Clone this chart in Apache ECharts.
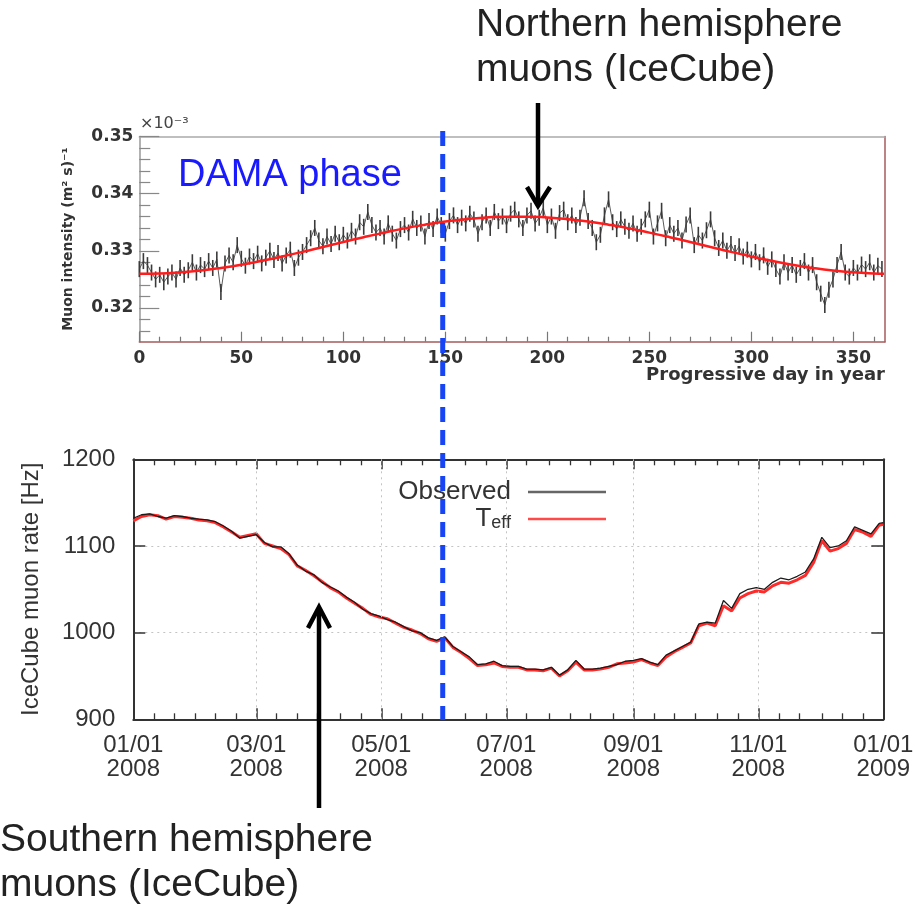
<!DOCTYPE html>
<html>
<head>
<meta charset="utf-8">
<script src="https://cdn.jsdelivr.net/npm/echarts@6/dist/echarts.min.js"></script>
<style>
html, body { margin: 0; padding: 0; background: #fff; }
#chart { width: 915px; height: 910px; }
</style>
</head>
<body>
<div id="chart"></div>
<script>
// ---- top panel: muon intensity (x1e-3 (m^2 s)^-1), every 2nd day ----
const topDays = [
  0,2,4,6,8,10,12,14,16,18, 20,22,24,26,28,30,32,34,36,38,
  40,42,44,46,48,50,52,54,56,58, 60,62,64,66,68,70,72,74,76,78,
  80,82,84,86,88,90,92,94,96,98, 100,102,104,106,108,110,112,114,116,118,
  120,122,124,126,128,130,132,134,136,138, 140,142,144,146,148,150,152,154,156,158,
  160,162,164,166,168,170,172,174,176,178, 180,182,184,186,188,190,192,194,196,198,
  200,202,204,206,208,210,212,214,216,218, 220,222,224,226,228,230,232,234,236,238,
  240,242,244,246,248,250,252,254,256,258, 260,262,264,266,268,270,272,274,276,278,
  280,282,284,286,288,290,292,294,296,298, 300,302,304,306,308,310,312,314,316,318,
  320,322,324,326,328,330,332,334,336,338, 340,342,344,346,348,350,352,354,356,358,
  360,362,364
];
const topRate = [
  0.3268,0.3282,0.3275,0.3262,0.3250,0.3258,0.3245,0.3255,0.3262,0.3250,
  0.3270,0.3258,0.3266,0.3280,0.3262,0.3275,0.3268,0.3282,0.3270,0.3285,
  0.3228,0.3278,0.3292,0.3280,0.3310,0.3286,0.3274,0.3290,0.3282,0.3295,
  0.3278,0.3288,0.3300,0.3284,0.3296,0.3278,0.3292,0.3302,0.3270,0.3288,
  0.3298,0.3310,0.3322,0.3340,0.3318,0.3308,0.3325,0.3312,0.3330,0.3315,
  0.3328,0.3318,0.3335,0.3325,0.3350,0.3342,0.3368,0.3345,0.3332,0.3340,
  0.3325,0.3348,0.3330,0.3318,0.3338,0.3345,0.3332,0.3356,0.3340,0.3348,
  0.3325,0.3352,0.3338,0.3360,0.3345,0.3330,0.3352,0.3362,0.3345,0.3358,
  0.3348,0.3365,0.3355,0.3330,0.3350,0.3362,0.3340,0.3368,0.3352,0.3360,
  0.3345,0.3365,0.3372,0.3355,0.3340,0.3362,0.3370,0.3348,0.3358,0.3375,
  0.3345,0.3360,0.3335,0.3366,0.3372,0.3350,0.3362,0.3345,0.3358,0.3392,
  0.3352,0.3340,0.3315,0.3328,0.3362,0.3390,0.3350,0.3338,0.3355,0.3342,
  0.3335,0.3348,0.3330,0.3342,0.3355,0.3372,0.3325,0.3348,0.3370,0.3322,
  0.3345,0.3330,0.3340,0.3318,0.3346,0.3362,0.3310,0.3328,0.3318,0.3336,
  0.3355,0.3322,0.3305,0.3318,0.3300,0.3312,0.3296,0.3308,0.3290,0.3302,
  0.3285,0.3298,0.3280,0.3292,0.3272,0.3285,0.3268,0.3255,0.3280,0.3262,
  0.3275,0.3258,0.3270,0.3282,0.3262,0.3275,0.3245,0.3225,0.3205,0.3232,
  0.3250,0.3275,0.3298,0.3262,0.3255,0.3270,0.3262,0.3276,0.3268,0.3280,
  0.3262,0.3274,0.3268
];
const topErr = 0.0014;

// fitted curve (red)
const fitDays = [0,10,20,30,40,50,60,70,80,90,100,110,120,130,140,150,160,170,180,
  190,200,210,220,230,240,250,260,270,280,290,300,310,320,330,340,350,360,365];
const fitRate = [0.32600,0.32604,0.32623,0.32655,0.32701,0.32758,0.32826,0.32901,0.32982,
  0.33068,0.33154,0.33238,0.33318,0.33393,0.33457,0.33512,0.33554,0.33583,0.33598,
  0.33598,0.33583,0.33554,0.33512,0.33457,0.33393,0.33318,0.33238,0.33154,0.33068,
  0.32982,0.32901,0.32826,0.32758,0.32701,0.32655,0.32623,0.32604,0.32600];

const topXMajor = [0,50,100,150,200,250,300,350];
const topXMinor = [10,20,30,40,60,70,80,90,110,120,130,140,160,170,180,190,210,220,230,240,
  260,270,280,290,310,320,330,340,360];
const topYMajor = [0.32,0.33,0.34,0.35];
const topYMinor = [0.316,0.318,0.322,0.324,0.326,0.328,0.332,0.334,0.336,0.338,
  0.342,0.344,0.346,0.348];

// ---- bottom panel: IceCube muon rate [Hz], 2008 ----
const botDays = [
  0,4,8,12,16,20,24,28,32,36, 40,44,48,52,56,60,64,68,72,76,
  80,84,88,92,96,100,104,108,112,116, 120,124,128,132,136,140,144,148,152,156,
  160,164,168,172,176,180,184,188,192,196, 200,204,208,212,216,220,224,228,232,236,
  240,244,248,252,256,260,264,268,272,276, 280,284,288,292,296,300,304,308,312,316,
  320,324,328,332,336,340,344,348,352,356, 360,364,366
];
const observed = [
  1132,1136,1137,1134,1132,1135,1134,1132,1131,1130,
  1128,1123,1117,1109,1111,1113,1104,1099,1099,1091,
  1078,1071,1067,1058,1053,1048,1041,1035,1027,1022,
  1019,1015,1012,1007,1002,1000,994,991,995,984,
  978,972,963,964,967,962,961,961,958,958,
  957,960,951,957,968,958,958,959,961,963,
  967,968,970,966,963,974,979,984,989,1010,
  1012,1011,1037,1028,1045,1050,1052,1050,1058,1063,
  1061,1065,1070,1085,1110,1098,1100,1106,1122,1118,
  1114,1126,1127
];
const teff = [
  1129,1134,1136,1135,1131,1134,1133,1132,1130,1129,
  1127,1122,1116,1110,1112,1114,1103,1100,1097,1090,
  1077,1072,1066,1059,1052,1047,1040,1034,1028,1021,
  1018,1016,1011,1006,1003,999,993,990,994,983,
  977,970,962,963,965,961,960,960,957,957,
  956,959,950,956,966,957,957,958,960,964,
  965,966,969,965,962,972,978,983,988,1008,
  1011,1008,1031,1025,1040,1045,1048,1047,1054,1058,
  1057,1061,1066,1081,1106,1094,1097,1103,1119,1116,
  1111,1124,1125
];
const botXTicks = [0,60,121,182,244,305,366];
const botXLabels = ['01/01\n2008','03/01\n2008','05/01\n2008','07/01\n2008',
  '09/01\n2008','11/01\n2008','01/01\n2009'];
const botXMinor = [10,20,30,40,50, 70,80,90,101,111, 131,141,151,162,172,
  192,203,213,223,234, 254,264,274,285,295, 315,325,336,346,356];
const damaDay = 151;

const zip = (xs, ys) => xs.map((x, i) => [x, ys[i]]);

const chart = echarts.init(document.getElementById('chart'));

const topLabelFont = { fontFamily: 'DejaVu Sans', fontWeight: 'bold', fontSize: 17, color: '#333' };
const botLabelFont = { fontFamily: 'Liberation Sans', fontSize: 24, color: '#333' };
const maroon = '#a65b5b';

const option = {
  animation: false,
  grid: [
    { left: 139.3, top: 136.5, width: 745.7, height: 205.2, outerBoundsMode: 'none' },
    { left: 133.3, top: 459.3, width: 750, height: 260, outerBoundsMode: 'none' }
  ],
  xAxis: [
    // top panel
    { gridIndex: 0, type: 'value', min: 0, max: 365.5, position: 'bottom',
      axisLine: { onZero: false, lineStyle: { color: maroon, width: 1.5 } },
      axisTick: { inside: true, length: 10, customValues: topXMajor, lineStyle: { color: '#777', width: 1.2 } },
      axisLabel: Object.assign({ customValues: topXMajor, margin: 8 }, topLabelFont),
      splitLine: { show: false } },
    { gridIndex: 0, type: 'value', min: 0, max: 365.5, position: 'bottom',
      axisLine: { show: false, onZero: false },
      axisTick: { inside: true, length: 5, customValues: topXMinor, lineStyle: { color: '#777', width: 1.2 } },
      axisLabel: { show: false }, splitLine: { show: false } },
    { gridIndex: 0, type: 'value', min: 0, max: 365.5, position: 'top',
      axisLine: { onZero: false, lineStyle: { color: '#aaa', width: 1.5 } },
      axisTick: { show: false }, axisLabel: { show: false }, splitLine: { show: false } },
    // bottom panel
    { gridIndex: 1, type: 'value', min: 0, max: 366, position: 'bottom',
      axisLine: { onZero: false, lineStyle: { color: '#333', width: 2 } },
      axisTick: { inside: true, length: 11, customValues: botXTicks, lineStyle: { color: '#333', width: 1.5 } },
      axisLabel: Object.assign({ customValues: botXTicks, margin: 14, lineHeight: 24,
        formatter: v => botXLabels[botXTicks.indexOf(v)] }, botLabelFont),
      splitLine: { show: false } },
    { gridIndex: 1, type: 'value', min: 0, max: 366, position: 'bottom',
      axisLine: { show: false, onZero: false },
      axisTick: { inside: true, length: 6, customValues: botXMinor, lineStyle: { color: '#333', width: 1.3 } },
      axisLabel: { show: false }, splitLine: { show: false } },
    { gridIndex: 1, type: 'value', min: 0, max: 366, position: 'top',
      axisLine: { onZero: false, lineStyle: { color: '#333', width: 2 } },
      axisTick: { inside: true, length: 10, customValues: botXTicks, lineStyle: { color: '#333', width: 1.5 } },
      axisLabel: { show: false }, splitLine: { show: false } },
    { gridIndex: 1, type: 'value', min: 0, max: 366, position: 'top',
      axisLine: { show: false, onZero: false },
      axisTick: { inside: true, length: 6, customValues: botXMinor, lineStyle: { color: '#333', width: 1.3 } },
      axisLabel: { show: false }, splitLine: { show: false } }
  ],
  yAxis: [
    { gridIndex: 0, type: 'value', min: 0.3141, max: 0.35, position: 'left',
      axisLine: { show: true, onZero: false, lineStyle: { color: '#999', width: 1.5 } },
      axisTick: { show: true, inside: true, length: 20, customValues: topYMajor, lineStyle: { color: '#888', width: 1.2 } },
      axisLabel: Object.assign({ customValues: topYMajor, margin: 6, formatter: v => v.toFixed(2) }, topLabelFont),
      splitLine: { show: false },
      name: 'Muon intensity (m² s)⁻¹', nameLocation: 'middle', nameGap: 64,
      nameTextStyle: { fontFamily: 'DejaVu Sans', fontWeight: 'bold', fontSize: 14, color: '#333' } },
    { gridIndex: 0, type: 'value', min: 0.3141, max: 0.35, position: 'left',
      axisLine: { show: false, onZero: false },
      axisTick: { show: true, inside: true, length: 11, customValues: topYMinor, lineStyle: { color: '#888', width: 1.2 } },
      axisLabel: { show: false }, splitLine: { show: false } },
    { gridIndex: 0, type: 'value', min: 0.3141, max: 0.35, position: 'right',
      axisLine: { show: true, onZero: false, lineStyle: { color: maroon, width: 1.5 } },
      axisTick: { show: false }, axisLabel: { show: false }, splitLine: { show: false } },
    { gridIndex: 1, type: 'value', min: 900, max: 1200, interval: 100, position: 'left',
      axisLine: { show: true, onZero: false, lineStyle: { color: '#333', width: 2 } },
      axisTick: { show: true, inside: true, length: 12, lineStyle: { color: '#333', width: 1.5 } },
      axisLabel: Object.assign({ margin: 18, formatter: v => String(v) }, botLabelFont),
      splitLine: { show: true, lineStyle: { color: '#c4c4c4', type: [2, 4], width: 1 } },
      name: 'IceCube muon rate [Hz]', nameLocation: 'middle', nameGap: 90,
      nameTextStyle: { fontFamily: 'Liberation Sans', fontSize: 24, color: '#333' } },
    { gridIndex: 1, type: 'value', min: 900, max: 1200, interval: 100, position: 'right',
      axisLine: { show: true, onZero: false, lineStyle: { color: '#333', width: 2 } },
      axisTick: { show: true, inside: true, length: 12, lineStyle: { color: '#333', width: 1.5 } },
      axisLabel: { show: false }, splitLine: { show: false } }
  ],
  legend: {
    data: [
      { name: 'Observed', itemStyle: { color: '#666' } },
      { name: 'Teff', itemStyle: { color: '#ff4a4a' } }
    ],
    orient: 'vertical',
    right: 309, top: 478,
    align: 'right',
    icon: 'rect',
    itemWidth: 78, itemHeight: 2.5, itemGap: 0,
    padding: 0,
    selectedMode: false,
    formatter: n => n === 'Teff' ? '{t|T}{s|eff}' : n,
    textStyle: {
      fontFamily: 'Liberation Sans', fontSize: 26, color: '#333', padding: [0, 12, 0, 0], lineHeight: 28,
      rich: {
        t: { fontFamily: 'Liberation Sans', fontSize: 26, color: '#333', lineHeight: 26, verticalAlign: 'top' },
        s: { fontFamily: 'Liberation Sans', fontSize: 18, color: '#333', lineHeight: 16, verticalAlign: 'bottom' }
      }
    }
  },
  series: [
    { name: 'dataLine', type: 'line', xAxisIndex: 0, yAxisIndex: 0, data: zip(topDays, topRate),
      symbol: 'none', lineStyle: { color: '#5a5a5a', width: 1 }, z: 3 },
    { name: 'data', type: 'custom', coordinateSystem: 'cartesian2d', xAxisIndex: 0, yAxisIndex: 0,
      data: zip(topDays, topRate), z: 4,
      renderItem: function (params, api) {
        const x = api.value(0), v = api.value(1);
        const p1 = api.coord([x, v - topErr]);
        const p2 = api.coord([x, v + topErr]);
        return { type: 'line', shape: { x1: p1[0], y1: p1[1], x2: p2[0], y2: p2[1] },
          style: { stroke: '#3a3a3a', lineWidth: 1.6 } };
      } },
    { name: 'fit', type: 'line', xAxisIndex: 0, yAxisIndex: 0, data: zip(fitDays, fitRate),
      smooth: true, symbol: 'none', lineStyle: { color: '#ff1c1c', width: 2.5 }, z: 5 },
    { name: 'Teff', type: 'line', xAxisIndex: 3, yAxisIndex: 3, data: zip(botDays, teff),
      symbol: 'none', color: '#ff3030', lineStyle: { color: '#ff2a2a', width: 3 } },
    { name: 'Observed', type: 'line', xAxisIndex: 3, yAxisIndex: 3, data: zip(botDays, observed),
      symbol: 'none', color: '#444', lineStyle: { color: '#1a1a1a', width: 1.3 }, z: 3,
      markLine: {
        silent: true, symbol: ['none', 'none'], label: { show: false }, animation: false,
        lineStyle: { color: '#c4c4c4', type: [2, 4], width: 1 },
        data: botXTicks.slice(1, -1).map(v => ({ xAxis: v }))
      } }
  ]
};
chart.setOption(option);

const damaX = chart.convertToPixel({ xAxisIndex: 3 }, damaDay);
const bigText = { fontFamily: 'Liberation Sans', fontSize: 39, fill: '#222', lineHeight: 45,
  align: 'left', verticalAlign: 'top' };

chart.setOption({
  graphic: [
    { type: 'line', z: 100, shape: { x1: damaX, y1: 131, x2: damaX, y2: 720 },
      style: { stroke: '#1745f5', lineWidth: 5, lineDash: [15, 8] } },
    { type: 'text', z: 100, x: 178, y: 176,
      style: { text: 'DAMA phase', fontFamily: 'Liberation Sans', fontSize: 38, fill: '#1a1aff',
        align: 'left', verticalAlign: 'middle' } },
    { type: 'text', z: 100, x: 140, y: 124,
      style: { text: '×10⁻³', fontFamily: 'DejaVu Sans', fontSize: 16, fill: '#444',
        align: 'left', verticalAlign: 'middle' } },
    { type: 'text', z: 100, x: 885, y: 375,
      style: { text: 'Progressive day in year', fontFamily: 'DejaVu Sans', fontWeight: 'bold',
        fontSize: 18, fill: '#333', align: 'right', verticalAlign: 'middle' } },
    { type: 'text', z: 100, x: 476, y: 3,
      style: Object.assign({ text: 'Northern hemisphere\nmuons (IceCube)' }, bigText) },
    { type: 'text', z: 100, x: 0, y: 818,
      style: Object.assign({ text: 'Southern hemisphere\nmuons (IceCube)' }, bigText) },
    { type: 'polyline', z: 100, shape: { points: [[538, 103], [538, 205]] },
      style: { stroke: '#000', lineWidth: 4.5, fill: null } },
    { type: 'polyline', z: 100, shape: { points: [[527, 187], [538, 206], [550, 187]] },
      style: { stroke: '#000', lineWidth: 4.5, fill: null, lineJoin: 'miter' } },
    { type: 'polyline', z: 100, shape: { points: [[319, 808], [319, 608]] },
      style: { stroke: '#000', lineWidth: 4.5, fill: null } },
    { type: 'polyline', z: 100, shape: { points: [[308, 628], [319, 607], [330, 628]] },
      style: { stroke: '#000', lineWidth: 4.5, fill: null, lineJoin: 'miter' } }
  ]
});
</script>
</body>
</html>
